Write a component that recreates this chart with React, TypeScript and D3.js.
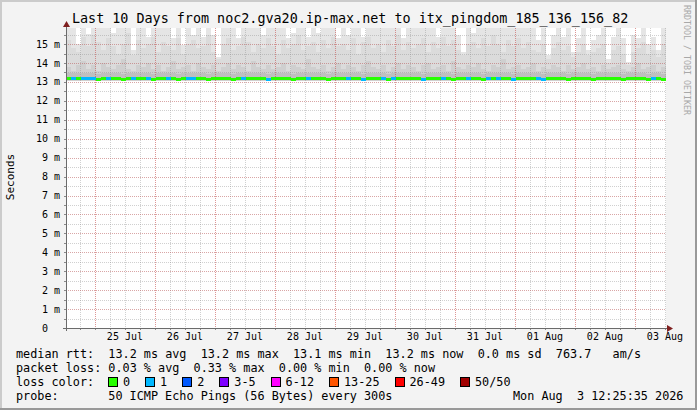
import React, { useEffect } from 'react';
import * as d3 from 'd3';

// ---- data (10 days, 2-hour bins) ----
const TITLE = 'Last 10 Days from noc2.gva20.ip-max.net to itx_pingdom_185_136_156_82';
const RANGE_START = Date.UTC(2026, 6, 24, 12, 25, 35);
const RANGE_END = Date.UTC(2026, 7, 3, 12, 25, 35);
const BIN_HOURS = 2;
const Y_MAX = 15.85;
const yTickValues = [0, 1, 2, 3, 4, 5, 6, 7, 8, 9, 10, 11, 12, 13, 14, 15];
const MIN_RTT = 13.04;

// max ping per bin (values above Y_MAX are clipped)
const maxRtt = [
  17, 17, 15.0, 17, 15.55, 17, 17, 17, 17, 15.6,
  17, 17, 17, 14.7, 17, 17, 15.4, 17, 17, 17,
  17, 15.3, 17, 14.95, 17, 15.5, 17, 15.4, 17, 15.5,
  14.3, 17, 17, 17, 15.3, 17, 17, 17, 17, 15.5,
  17, 17, 17, 17, 15.3, 15.6, 17, 17, 15.4, 17,
  15.6, 17, 17, 17, 15.3, 17, 15.5, 17, 17, 15.4,
  17, 17, 17, 17, 17, 17, 17, 15.3, 17, 17,
  17, 17, 17, 17, 15.35, 17, 17, 17, 15.5, 14.6,
  17, 15.6, 17, 17, 17, 17, 17, 17, 17, 17,
  17, 17, 17, 17, 15.2, 17, 14.4, 15.5, 17, 15.4,
  17, 14.6, 15.3, 17, 14.7, 15.2, 15.5, 17, 14.2, 15.4,
  17, 15.3, 14.05, 15.5, 15.3, 17, 15.0, 15.4, 14.7, 17,
];

// ~85th percentile ping per bin
const upperRtt = [
  15.2, 14.8, 14.6, 15.4, 14.9, 15.5, 15.1, 14.7, 15.3, 14.9,
  14.5, 15.0, 15.6, 14.4, 15.2, 14.8, 15.0, 15.4, 14.6, 15.1,
  14.9, 14.7, 15.3, 14.5, 15.0, 15.2, 14.8, 14.9, 15.5, 14.6,
  14.2, 15.0, 15.3, 14.7, 14.9, 15.4, 15.1, 14.6, 15.0, 14.8,
  15.3, 14.9, 14.5, 15.2, 14.8, 15.0, 15.5, 14.7, 14.9, 15.1,
  14.6, 15.2, 14.8, 15.4, 14.9, 15.0, 14.7, 15.3, 14.5, 15.1,
  15.4, 14.8, 15.0, 14.6, 15.2, 14.9, 15.5, 14.7, 15.1, 14.8,
  15.0, 15.3, 14.6, 15.1, 14.8, 15.4, 14.9, 15.2, 14.7, 14.4,
  15.0, 15.1, 14.8, 15.3, 14.9, 15.5, 15.0, 14.6, 15.2, 14.9,
  15.3, 14.8, 15.1, 14.7, 14.6, 15.0, 14.2, 14.8, 15.1, 14.7,
  14.9, 14.3, 14.6, 15.0, 14.4, 14.6, 14.8, 15.0, 14.0, 14.7,
  14.9, 14.5, 13.9, 14.6, 14.8, 15.1, 14.5, 14.7, 14.3, 15.0,
];

// ~65th percentile ping per bin
const innerRtt = [
  13.8, 13.6, 13.9, 14.1, 13.7, 13.9, 13.6, 14.0, 13.8, 13.7,
  13.9, 14.2, 13.7, 13.6, 13.9, 13.8, 14.0, 13.7, 13.9, 13.6,
  13.8, 14.1, 13.7, 13.8, 13.9, 13.6, 14.0, 13.8, 13.7, 13.9,
  13.6, 13.8, 14.0, 13.7, 13.9, 13.8, 13.6, 14.1, 13.8, 13.7,
  13.9, 13.7, 13.8, 14.0, 13.6, 13.9, 13.8, 13.7, 14.2, 13.8,
  13.7, 13.9, 13.6, 13.8, 14.0, 13.7, 13.9, 13.8, 13.6, 13.9,
  14.1, 13.8, 13.7, 13.9, 13.6, 13.8, 14.0, 13.7, 13.9, 13.8,
  13.6, 13.9, 14.0, 13.7, 13.8, 13.9, 13.6, 14.1, 13.8, 13.7,
  13.9, 13.8, 14.0, 13.7, 13.6, 13.9, 13.8, 14.2, 13.7, 13.8,
  13.9, 13.7, 13.8, 14.0, 13.6, 13.8, 13.7, 13.9, 13.8, 13.6,
  13.9, 13.7, 13.8, 14.0, 13.7, 13.8, 13.6, 13.9, 13.7, 13.8,
  13.9, 13.7, 13.6, 13.8, 14.0, 13.7, 13.8, 13.9, 13.6, 13.8,
];

// median rtt per bin
const medianRtt = [
  13.2, 13.2, 13.2, 13.2, 13.2, 13.2, 13.15, 13.2, 13.2, 13.2,
  13.2, 13.15, 13.2, 13.2, 13.2, 13.2, 13.2, 13.15, 13.2, 13.2,
  13.2, 13.2, 13.15, 13.2, 13.2, 13.2, 13.2, 13.2, 13.15, 13.2,
  13.2, 13.2, 13.2, 13.15, 13.2, 13.2, 13.2, 13.2, 13.2, 13.2,
  13.15, 13.2, 13.2, 13.2, 13.2, 13.15, 13.2, 13.2, 13.2, 13.2,
  13.2, 13.2, 13.15, 13.2, 13.2, 13.2, 13.2, 13.2, 13.2, 13.15,
  13.2, 13.2, 13.2, 13.2, 13.15, 13.2, 13.2, 13.2, 13.2, 13.2,
  13.2, 13.15, 13.2, 13.2, 13.2, 13.2, 13.2, 13.15, 13.2, 13.2,
  13.2, 13.2, 13.2, 13.15, 13.2, 13.2, 13.2, 13.2, 13.2, 13.15,
  13.2, 13.2, 13.2, 13.2, 13.2, 13.15, 13.2, 13.2, 13.2, 13.2,
  13.15, 13.2, 13.2, 13.2, 13.2, 13.15, 13.2, 13.2, 13.2, 13.2,
  13.2, 13.15, 13.2, 13.2, 13.2, 13.2, 13.15, 13.2, 13.2, 13.15,
];

// lost pings per bin (out of 50)
const lossCount = [
  0, 1, 0, 1, 1, 1, 0, 0, 1, 0,
  0, 0, 0, 1, 0, 0, 1, 0, 0, 0,
  1, 0, 0, 0, 1, 1, 0, 0, 0, 0,
  0, 0, 0, 0, 0, 1, 0, 0, 0, 0,
  1, 0, 0, 0, 0, 0, 0, 0, 1, 0,
  0, 0, 0, 0, 0, 0, 1, 0, 0, 1,
  0, 0, 0, 1, 0, 1, 0, 0, 0, 0,
  0, 1, 0, 0, 0, 1, 0, 0, 0, 0,
  1, 0, 0, 0, 1, 0, 1, 0, 0, 1,
  0, 0, 0, 0, 1, 1, 0, 0, 0, 0,
  0, 0, 0, 0, 0, 0, 0, 0, 0, 0,
  0, 0, 0, 0, 0, 0, 0, 1, 0, 0,
];

const lossLabels = ['0', '1', '2', '3-5', '6-12', '13-25', '26-49', '50/50'];
const lossColors = ['#26ff00', '#00b8ff', '#0059ff', '#7e00ff', '#ff00ff', '#ff5500', '#ff0000', '#a10000'];

const legendRows = [
  'median rtt:  13.2 ms avg  13.2 ms max  13.1 ms min  13.2 ms now  0.0 ms sd  763.7   am/s',
  'packet loss: 0.03 % avg  0.33 % max  0.00 % min  0.00 % now',
];
const probeText = '50 ICMP Echo Pings (56 Bytes) every 300s';
const stampText = 'Mon Aug  3 12:25:35 2026';

const W = 697;
const H = 410;
const plot = { left: 66, right: 666, top: 28, bottom: 328 };
const MONO = '"DejaVu Sans Mono", monospace';
const CHAR = 7.1;

const lossColor = (n: number) => {
  if (n <= 0) return lossColors[0];
  if (n === 1) return lossColors[1];
  if (n === 2) return lossColors[2];
  if (n <= 5) return lossColors[3];
  if (n <= 12) return lossColors[4];
  if (n <= 25) return lossColors[5];
  if (n <= 49) return lossColors[6];
  return lossColors[7];
};

const App: React.FC = () => {
  useEffect(() => {
    document.body.style.margin = '0';
  }, []);

  const x = d3.scaleUtc().domain([new Date(RANGE_START), new Date(RANGE_END)]).range([plot.left, plot.right]);
  const y = d3.scaleLinear().domain([0, Y_MAX]).range([plot.bottom, plot.top]);
  const yc = (v: number) => y(Math.min(v, Y_MAX + 0.2));

  const bins = medianRtt.map((m, i) => {
    const t0 = new Date(RANGE_START + i * BIN_HOURS * 3600e3);
    const t1 = new Date(RANGE_START + (i + 1) * BIN_HOURS * 3600e3);
    return { x0: x(t0), x1: Math.min(x(t1), plot.right), m, i };
  });

  const days = d3.utcDay.range(new Date(RANGE_START), new Date(RANGE_END));
  const quarterDays = d3.utcHour.every(6)!.range(new Date(RANGE_START), new Date(RANGE_END));
  const noons = days.map(d => new Date(d.getTime() + 12 * 3600e3)).filter(d => d.getTime() <= RANGE_END);
  const halfTicks = d3.range(1, Y_MAX * 2).map(k => k / 2);
  const fmt = d3.utcFormat('%d %b');

  const px = (v: number) => Math.round(v) + 0.5;

  // legend layout for loss boxes
  let cursor = 108;
  const lossItems = lossLabels.map((label, i) => {
    const item = { label, color: lossColors[i], bx: cursor, tx: cursor + 15 };
    cursor = item.tx + label.length * CHAR + 15;
    return item;
  });

  const smoke = [
    { key: 'max', vals: maxRtt, fill: '#e5e5e5' },
    { key: 'upper', vals: upperRtt, fill: '#dbdbdb' },
    { key: 'inner', vals: innerRtt, fill: '#cfcfcf' },
  ];

  return (
    <svg width={W} height={H} style={{ display: 'block', position: 'absolute', left: 0, top: 0 }}>
      <defs>
        <clipPath id="plotclip">
          <rect x={plot.left} y={plot.top} width={plot.right - plot.left} height={plot.bottom - plot.top} />
        </clipPath>
      </defs>
      {/* canvas + 3d frame */}
      <rect x={0} y={0} width={W} height={H} fill="#f3f3f3" />
      <path d={`M0,${H} V0 H${W}`} fill="none" stroke="#cbcbcb" strokeWidth={4} />
      <path d={`M0,${H} H${W} V0`} fill="none" stroke="#999999" strokeWidth={4} />
      <rect x={plot.left} y={plot.top} width={plot.right - plot.left} height={plot.bottom - plot.top} fill="#ffffff" />

      {/* smoke */}
      <g clipPath="url(#plotclip)" shapeRendering="crispEdges">
        {smoke.map(layer => (
          <g key={layer.key}>
            {bins.map(b => (
              <rect key={b.i} x={b.x0} width={b.x1 - b.x0} y={yc(layer.vals[b.i])}
                height={y(MIN_RTT) - yc(layer.vals[b.i])} fill={layer.fill} />
            ))}
          </g>
        ))}
        {bins.map(b => (
          <rect key={`core${b.i}`} x={b.x0} width={b.x1 - b.x0} y={y(b.m + 0.28)}
            height={y(b.m - 0.12) - y(b.m + 0.28)} fill="#bfbfbf" />
        ))}
      </g>

      {/* grid */}
      <g shapeRendering="crispEdges" strokeDasharray="1,1">
        {halfTicks.map(v => (
          <line key={`hm${v}`} x1={plot.left} x2={plot.right} y1={px(y(v))} y2={px(y(v))}
            stroke="rgba(143,143,143,0.42)" />
        ))}
        {quarterDays.map(d => (
          <line key={`vm${d.getTime()}`} x1={px(x(d))} x2={px(x(d))} y1={plot.top} y2={plot.bottom}
            stroke="rgba(143,143,143,0.42)" />
        ))}
        {yTickValues.filter(v => v > 0).map(v => (
          <line key={`hM${v}`} x1={plot.left} x2={plot.right} y1={px(y(v))} y2={px(y(v))}
            stroke="rgba(255,0,0,0.2)" />
        ))}
        {days.map(d => (
          <line key={`vM${d.getTime()}`} x1={px(x(d))} x2={px(x(d))} y1={plot.top} y2={plot.bottom}
            stroke="rgba(255,0,0,0.28)" />
        ))}
      </g>

      {/* median line coloured by loss */}
      <g shapeRendering="crispEdges">
        {bins.map(b => (
          <rect key={`med${b.i}`} x={b.x0} width={b.x1 - b.x0} y={y(b.m) - 1.5} height={3}
            fill={lossColor(lossCount[b.i])} />
        ))}
      </g>

      {/* axes */}
      <g shapeRendering="crispEdges" stroke="#8a8a8a">
        {halfTicks.map(v => (
          <line key={`yt${v}`} x1={plot.left - 2} x2={plot.left} y1={px(y(v))} y2={px(y(v))} />
        ))}
        {quarterDays.map(d => (
          <line key={`xt${d.getTime()}`} x1={px(x(d))} x2={px(x(d))} y1={plot.bottom} y2={plot.bottom + 2} />
        ))}
      </g>
      <line x1={plot.left + 0.5} x2={plot.left + 0.5} y1={22} y2={plot.bottom + 3} stroke="#6b6b6b" strokeWidth={1} shapeRendering="crispEdges" />
      <line x1={plot.left - 3} x2={plot.right + 4} y1={plot.bottom + 0.5} y2={plot.bottom + 0.5} stroke="#6b6b6b" strokeWidth={1} shapeRendering="crispEdges" />
      <path d={`M${plot.left - 3},${plot.top - 1} L${plot.left + 4},${plot.top - 1} L${plot.left + 0.5},${plot.top - 7} Z`} fill="#7f1f1f" />
      <path d={`M${plot.right + 1},${plot.bottom - 3} L${plot.right + 1},${plot.bottom + 4} L${plot.right + 7},${plot.bottom + 0.5} Z`} fill="#7f1f1f" />

      {/* tick labels */}
      <g fontFamily={MONO} fontSize={10} fill="#000">
        {yTickValues.map(v => (
          <text key={`yl${v}`} x={v === 0 ? 48 : 60} y={y(v) + 3.5} textAnchor="end">
            {v === 0 ? '0' : `${v} m`}
          </text>
        ))}
        {noons.map(d => (
          <text key={`xl${d.getTime()}`} x={x(d)} y={340} textAnchor="middle">{fmt(d)}</text>
        ))}
      </g>

      {/* title, axis label, watermark */}
      <text x={72} y={23} fontFamily={MONO} fontSize={13.4} fill="#000">{TITLE}</text>
      <text transform="translate(14,177) rotate(-90)" textAnchor="middle" fontFamily={MONO} fontSize={11} fill="#000">Seconds</text>
      <text transform="translate(684,60) rotate(90)" textAnchor="middle" fontFamily={MONO} fontSize={8.3} fill="#a8a8a8">RRDTOOL / TOBI OETIKER</text>

      {/* legend */}
      <g fontFamily={MONO} fontSize={11.8} fill="#000" style={{ whiteSpace: 'pre' }}>
        {legendRows.map((row, i) => (
          <text key={`lg${i}`} x={16} y={358 + i * 14} xmlSpace="preserve">{row}</text>
        ))}
        <text x={16} y={386}>loss color:</text>
        {lossItems.map(it => (
          <g key={it.label}>
            <rect x={it.bx + 0.5} y={377.5} width={9} height={9} fill={it.color} stroke="#000" strokeWidth={1} shapeRendering="crispEdges" />
            <text x={it.tx} y={386}>{it.label}</text>
          </g>
        ))}
        <text x={16} y={400}>probe:</text>
        <text x={16 + 13 * CHAR} y={400}>{probeText}</text>
        <text x={513} y={400} xmlSpace="preserve">{stampText}</text>
      </g>
    </svg>
  );
};

export default App;
